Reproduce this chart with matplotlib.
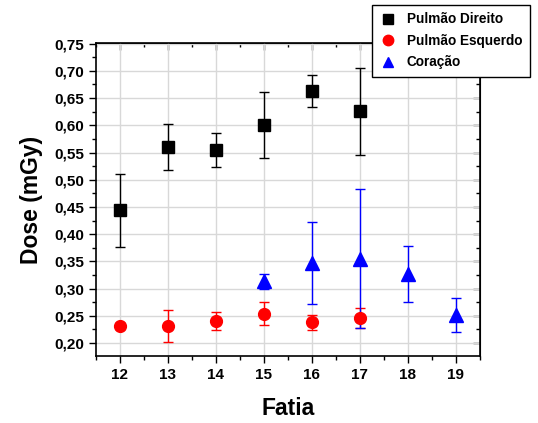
import matplotlib.pyplot as plt
from matplotlib.lines import Line2D
from matplotlib.ticker import MultipleLocator, FuncFormatter

plt.rcParams['font.family'] = ['Liberation Sans', 'DejaVu Sans']
plt.rcParams['font.weight'] = 'bold'

fatia = [12, 13, 14, 15, 16, 17, 18, 19]

# Pulmão Direito
x_dir = [12, 13, 14, 15, 16, 17]
dose_dir = [0.444, 0.560, 0.554, 0.600, 0.663, 0.626]
err_dir = [0.067, 0.043, 0.031, 0.061, 0.030, 0.080]

# Pulmão Esquerdo
x_esq = [12, 13, 14, 15, 16, 17]
dose_esq = [0.231, 0.231, 0.240, 0.254, 0.238, 0.246]
err_esq = [0.006, 0.029, 0.017, 0.021, 0.014, 0.018]

# Coração
x_cor = [15, 16, 17, 18, 19]
dose_cor = [0.313, 0.347, 0.355, 0.327, 0.252]
err_cor = [0.013, 0.075, 0.128, 0.052, 0.031]

series = [
    (x_dir, dose_dir, err_dir, 's', 'black', 8, 'Pulmão Direito'),
    (x_esq, dose_esq, err_esq, 'o', '#ff0000', 8.5, 'Pulmão Esquerdo'),
    (x_cor, dose_cor, err_cor, '^', '#0000ff', 9.5, 'Coração'),
]

fig = plt.figure(figsize=(5.38, 4.23), dpi=100)
ax = fig.add_axes([0.1784, 0.1584, 0.7136, 0.7396])

handles = []
for x, y, e, mk, col, ms, name in series:
    ax.errorbar(x, y, yerr=e, fmt=mk, color=col, ecolor=col, markersize=ms,
                capsize=3.5, elinewidth=1, capthick=1, zorder=3)
    handles.append(Line2D([], [], linestyle='none', marker=mk, color=col,
                          markersize=7.5, label=name))

ax.set_xlim(11.5, 19.5)
ax.set_ylim(0.176, 0.751)
ax.set_xticks(fatia)
ax.xaxis.set_minor_locator(MultipleLocator(0.5))
ax.yaxis.set_major_locator(MultipleLocator(0.05))
ax.yaxis.set_minor_locator(MultipleLocator(0.025))
ax.yaxis.set_major_formatter(FuncFormatter(lambda v, p: f'{v:.2f}'.replace('.', ',')))

ax.grid(True, which='major', color='#d8d8d8', linewidth=1, zorder=0)
ax.set_axisbelow(True)

ax.tick_params(which='major', direction='out', length=5, width=1, labelsize=11)
ax.tick_params(which='minor', direction='out', length=3, width=1)
for lab in ax.get_xticklabels() + ax.get_yticklabels():
    lab.set_fontweight('bold')

# mirrored ticks on top and right, pointing inward
top = ax.secondary_xaxis('top')
top.set_xticks(fatia)
top.xaxis.set_minor_locator(MultipleLocator(0.5))
top.tick_params(which='major', direction='in', length=5, width=1, labeltop=False)
top.tick_params(which='minor', direction='in', length=3, width=1)
right = ax.secondary_yaxis('right')
right.yaxis.set_major_locator(MultipleLocator(0.05))
right.yaxis.set_minor_locator(MultipleLocator(0.025))
right.tick_params(which='major', direction='in', length=5, width=1, labelright=False)
right.tick_params(which='minor', direction='in', length=3, width=1)

for s in ax.spines.values():
    s.set_linewidth(1.2)

ax.set_xlabel('Fatia', fontsize=16.5, fontweight='bold', labelpad=11)
ax.set_ylabel('Dose (mGy)', fontsize=16.5, fontweight='bold', labelpad=8)

leg = fig.legend(handles=handles, loc='upper left', bbox_to_anchor=(372 / 538, 1 - 5 / 423),
                 borderaxespad=0, fontsize=9.8, frameon=True, fancybox=False,
                 edgecolor='black', framealpha=1, handletextpad=0.7, borderpad=0.55,
                 labelspacing=0.55, handlelength=1.3)
leg.get_frame().set_linewidth(1)
for t in leg.get_texts():
    t.set_fontweight('bold')

fig.savefig('out.png', dpi=100)
